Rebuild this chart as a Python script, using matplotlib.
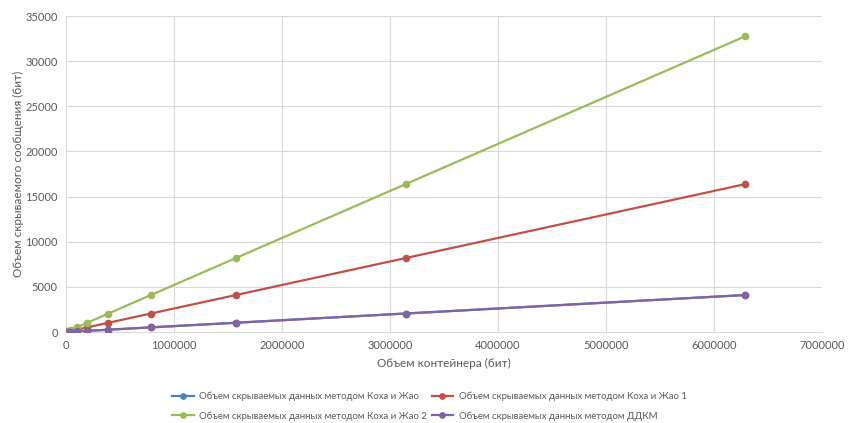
import matplotlib
matplotlib.use("Agg")
import matplotlib.pyplot as plt

plt.rcParams['font.family'] = ['Lato', 'DejaVu Sans']

container_bits = [12288, 24576, 49152, 98304, 196608, 393216, 786432, 1572864, 3145728, 6291456]
koch_zhao = [8, 16, 32, 64, 128, 256, 512, 1024, 2048, 4096]
koch_zhao_1 = [32, 64, 128, 256, 512, 1024, 2048, 4096, 8192, 16384]
koch_zhao_2 = [64, 128, 256, 512, 1024, 2048, 4096, 8192, 16384, 32768]
ddkm = [8, 16, 32, 64, 128, 256, 512, 1024, 2048, 4096]

labels = [
    "Объем скрываемых данных методом Коха и Жао",
    "Объем скрываемых данных методом Коха и Жао 1",
    "Объем скрываемых данных методом Коха и Жао 2",
    "Объем скрываемых данных методом ДДКМ",
]
colors = ["#4F81BD", "#C0504D", "#9BBB59", "#8064A2"]
xticks = [0, 1000000, 2000000, 3000000, 4000000, 5000000, 6000000, 7000000]
yticks = [0, 5000, 10000, 15000, 20000, 25000, 30000, 35000]

fig = plt.figure(figsize=(8.54, 4.23), dpi=100)
ax = fig.add_axes([66/854, 1-332/423, (822-66)/854, (332-16)/423])

series = [koch_zhao, koch_zhao_1, koch_zhao_2, ddkm]
handles = []
for vals, lab, col in zip(series, labels, colors):
    h, = ax.plot(container_bits, vals, color=col, lw=1.6, marker='o', ms=4.5,
                 label=lab, zorder=3)
    handles.append(h)

ax.set_xlim(0, 7000000)
ax.set_ylim(0, 35000)
ax.set_xticks(xticks)
ax.set_yticks(yticks)
ax.set_xticklabels([str(v) for v in xticks])
ax.set_yticklabels([str(v) for v in yticks])
ax.grid(True, color="#D9D9D9", lw=0.8, zorder=0)
for s in ax.spines.values():
    s.set_visible(False)
ax.spines['bottom'].set_visible(True)
ax.spines['bottom'].set_color("#D9D9D9")
ax.tick_params(length=0, labelsize=8, colors="#595959", pad=6)

ax.set_xlabel("Объем контейнера (бит)", fontsize=8.5, color="#595959", labelpad=5)
ax.set_ylabel("Объем скрываемого сообщения (бит)", fontsize=8.5, color="#595959", labelpad=1)

order = [0, 2, 1, 3]
leg = fig.legend([handles[i] for i in order], [labels[i] for i in order],
           ncol=2, loc='lower center', bbox_to_anchor=(0.503, -0.015),
           frameon=False, fontsize=6.9, labelcolor="#595959",
           handlelength=2.2, handletextpad=0.6, columnspacing=0.5,
           labelspacing=1.08, markerscale=0.85)

fig.savefig("out.png", dpi=100)
